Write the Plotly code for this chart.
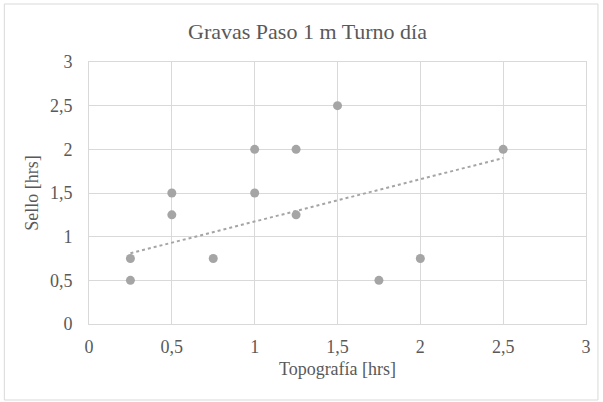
import plotly.graph_objects as go

x_topo = [0.25, 0.25, 0.5, 0.5, 0.75, 1, 1, 1.25, 1.25, 1.5, 1.75, 2, 2.5]
y_sello = [0.75, 0.5, 1.5, 1.25, 0.75, 2, 1.5, 2, 1.25, 2.5, 0.5, 0.75, 2]
# linear trendline (endpoints at the x-range of the data)
trend_x = [0.25, 2.5]
trend_y = [0.81, 1.90]
tick_vals = [0, 0.5, 1, 1.5, 2, 2.5, 3]
tick_text = ["0", "0,5", "1", "1,5", "2", "2,5", "3"]

font = "Liberation Serif"
grey = "#595959"

fig = go.Figure()
fig.add_trace(go.Scatter(x=x_topo, y=y_sello, mode="markers",
                         marker=dict(color="#a5a5a5", size=9), showlegend=False))
fig.add_trace(go.Scatter(x=trend_x, y=trend_y, mode="lines",
                         line=dict(color="#a5a5a5", width=2, dash="dot"), showlegend=False))

axis_common = dict(range=[0, 3], tickvals=tick_vals, ticktext=tick_text,
                   showgrid=True, gridcolor="#d9d9d9", gridwidth=1,
                   showline=True, linecolor="#d9d9d9", zeroline=False,
                   tickfont=dict(family=font, size=18, color=grey), ticks="")
fig.update_xaxes(**axis_common, ticklabelstandoff=6,
                 title=dict(text="Topografía [hrs]", font=dict(family=font, size=18, color=grey), standoff=6), mirror=True)
fig.update_yaxes(**axis_common, ticklabelstandoff=12,
                 title=dict(text="Sello [hrs]", font=dict(family=font, size=18, color=grey), standoff=6), mirror=True)

fig.update_layout(
    width=603, height=402,
    margin=dict(l=89, r=15, t=62, b=78),
    paper_bgcolor="white", plot_bgcolor="white",
    title=dict(text="Gravas Paso 1 m Turno día", x=0.51, xanchor="center", y=1 - 31 / 402, yanchor="middle",
               font=dict(family=font, size=22, color=grey)),
    shapes=[dict(type="rect", xref="paper", yref="paper",
                 x0=(4 - 89) / 499, x1=(600 - 89) / 499,
                 y0=(324 - 400) / 262, y1=(324 - 4) / 262,
                 line=dict(color="#d9d9d9", width=1), layer="below")],
)
fig.write_html("out.html")
